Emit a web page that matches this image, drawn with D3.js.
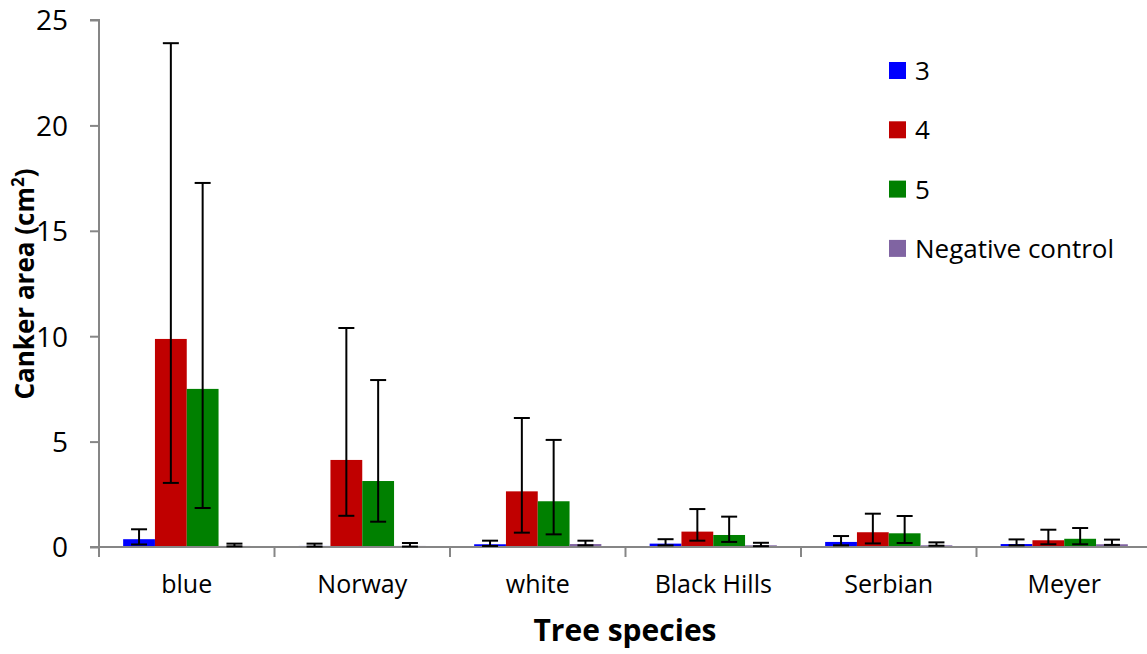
<!DOCTYPE html>
<html><head><meta charset="utf-8">
<script src="https://cdn.jsdelivr.net/npm/d3@7"></script>
<style>body{margin:0;background:#fff}svg{display:block}text{font-family:"Open Sans",sans-serif}</style>
</head><body><svg id="c" width="1147" height="654"></svg>
<script>
const categories = ["blue","Norway","white","Black Hills","Serbian","Meyer"];
const seriesNames = ["3","4","5","Negative control"];
const colors = ["#0000FF","#C00000","#008000","#8064A2"];
// mean values per series per category
const s3 = [0.37, 0.05, 0.13, 0.16, 0.24, 0.14];
const s4 = [9.87, 4.13, 2.64, 0.73, 0.70, 0.32];
const s5 = [7.50, 3.13, 2.17, 0.57, 0.65, 0.39];
const sNeg = [0.05, 0.05, 0.14, 0.08, 0.08, 0.13];
// error bar upper / lower ends
const hi3 = [0.84, 0.16, 0.30, 0.37, 0.52, 0.36];
const lo3 = [0.12, 0.02, 0.05, 0.08, 0.08, 0.08];
const hi4 = [23.9, 10.39, 6.12, 1.80, 1.58, 0.82];
const lo4 = [3.04, 1.48, 0.68, 0.30, 0.17, 0.13];
const hi5 = [17.27, 7.92, 5.08, 1.44, 1.47, 0.90];
const lo5 = [1.85, 1.20, 0.60, 0.24, 0.19, 0.13];
const hiN = [0.16, 0.19, 0.30, 0.20, 0.22, 0.35];
const loN = [0.03, 0.02, 0.08, 0.04, 0.06, 0.10];
const yTicks = [0,5,10,15,20,25];

const values = [s3,s4,s5,sNeg], his=[hi3,hi4,hi5,hiN], los=[lo3,lo4,lo5,loN];
const svg = d3.select("#c");
const m = {l:99, t:20, b:547, r:1152};
const x = d3.scaleBand().domain(categories).range([m.l, m.r]).paddingInner(0).paddingOuter(0);
const bw = 31.8;
const y = d3.scaleLinear().domain([0,25]).range([m.b, m.t]);
const xs = d3.scaleBand().domain(seriesNames).range([0, bw*4]);

// bars
const rows = [];
categories.forEach((c,i)=>seriesNames.forEach((s,j)=>rows.push({c,s,j,v:values[j][i],hi:his[j][i],lo:los[j][i]})));
const gx = c => x(c) + (x.bandwidth() - bw*4)/2;
svg.append("g").selectAll("rect").data(rows).join("rect")
  .attr("x", d=>gx(d.c)+xs(d.s)).attr("width", xs.bandwidth())
  .attr("y", d=>y(d.v)).attr("height", d=>y(0)-y(d.v))
  .attr("fill", d=>colors[d.j]);

// axes
const ya = svg.append("g").attr("transform",`translate(${m.l},0)`)
  .call(d3.axisLeft(y).tickValues(yTicks).tickSize(9).tickPadding(22).tickFormat(d3.format("d")));
ya.select(".domain").attr("stroke","#868686").attr("stroke-width",2).attr("d",`M-9,${m.t}H0V${m.b+10}`);
ya.selectAll(".tick line").attr("stroke","#868686").attr("stroke-width",2);
ya.selectAll("text").attr("font-size",28).attr("fill","#000").attr("dy","0.35em").attr("y",0);

const xa = svg.append("g").attr("transform",`translate(0,${m.b})`);
xa.append("line").attr("x1",m.l-9).attr("x2",m.r).attr("stroke","#868686").attr("stroke-width",2);
const bounds = categories.map(c=>x(c)).concat([m.r]);
xa.selectAll(".tk").data(bounds).join("line").attr("class","tk")
  .attr("x1",d=>d).attr("x2",d=>d).attr("y1",0).attr("y2",10).attr("stroke","#868686").attr("stroke-width",2);
xa.selectAll(".lab").data(categories).join("text").attr("class","lab")
  .attr("x",d=>x(d)+x.bandwidth()/2).attr("y",46).attr("text-anchor","middle")
  .attr("font-size",25).text(d=>d);

// error bars
const eb = svg.append("g").attr("stroke","#000").attr("stroke-width",2).attr("fill","none");
rows.forEach(d=>{
  const cx = gx(d.c)+xs(d.s)+xs.bandwidth()/2;
  eb.append("line").attr("x1",cx).attr("x2",cx).attr("y1",y(d.hi)).attr("y2",y(d.lo));
  eb.append("line").attr("x1",cx-8).attr("x2",cx+8).attr("y1",y(d.hi)).attr("y2",y(d.hi));
  eb.append("line").attr("x1",cx-8).attr("x2",cx+8).attr("y1",y(d.lo)).attr("y2",y(d.lo));
});

// titles
svg.append("text").attr("x",625).attr("y",641).attr("text-anchor","middle")
  .attr("font-size",30).attr("font-weight","bold").text("Tree species");
const yt = svg.append("text").attr("transform","translate(34,284) rotate(-90)").attr("text-anchor","middle")
  .attr("font-size",26).attr("font-weight","bold");
yt.append("tspan").text("Canker area (cm");
yt.append("tspan").attr("dy",-10).attr("font-size",17).text("2");
yt.append("tspan").attr("dy",10).text(")");

// legend
const lg = svg.append("g");
seriesNames.forEach((s,i)=>{
  const cy = 71 + i*59.3;
  lg.append("rect").attr("x",889).attr("y",cy-9).attr("width",17).attr("height",17).attr("fill",colors[i]);
  lg.append("text").attr("x",915).attr("y",cy).attr("dy","0.35em").attr("font-size",26).text(s);
});
</script></body></html>
